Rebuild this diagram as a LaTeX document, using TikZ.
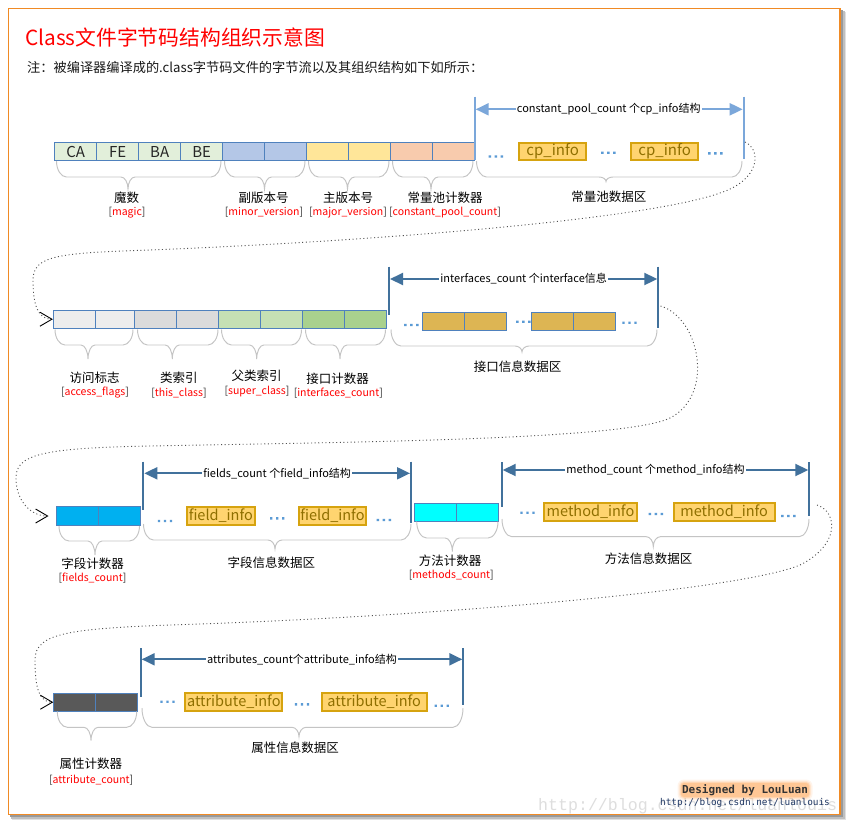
\documentclass[tikz,border=0pt]{standalone}
\usepackage{fontspec}
\setmainfont{Noto Sans CJK SC}
\newfontfamily\sigfont{DejaVu Sans Mono}
\newfontfamily\wmfont{Liberation Mono}
\usetikzlibrary{arrows.meta}
\definecolor{frameorange}{HTML}{F08A24}
\definecolor{cellblue}{HTML}{4F81BD}
\definecolor{cCA}{HTML}{E2EFDA}
\definecolor{cMinor}{HTML}{B4C7E7}
\definecolor{cMajor}{HTML}{FFE699}
\definecolor{cCP}{HTML}{F8CBAD}
\definecolor{cAcc}{HTML}{EDEDED}
\definecolor{cThis}{HTML}{DBDBDB}
\definecolor{cSuper}{HTML}{C5E0B4}
\definecolor{cIntf}{HTML}{A9D18E}
\definecolor{cFld}{HTML}{00B0F0}
\definecolor{cMth}{HTML}{00FFFF}
\definecolor{cAttr}{HTML}{595959}
\definecolor{cGold}{HTML}{DDB553}
\definecolor{infofill}{HTML}{FFD46F}
\definecolor{infoborder}{HTML}{D6A30F}
\definecolor{infotext}{HTML}{8F6F00}
\definecolor{bracegray}{HTML}{C4C4C4}
\definecolor{dimlight}{HTML}{7BA7DA}
\definecolor{dimdark}{HTML}{41719C}
\definecolor{dotblue}{HTML}{5B9BD5}
\definecolor{conngray}{HTML}{505050}
\definecolor{urlblue}{HTML}{203864}
\definecolor{glow}{HTML}{FF9A3C}
\newcommand\myfs[1]{\fontsize{#1}{#1}\selectfont}
\newcommand\cellat[7]{\node[cellbox, fill=#6, minimum width={#3-#2}, minimum height=#5] (#1) at ({(#2+#3)/2},#4) {#7};}
\newcommand\infoat[7]{\node[infobox, font=\myfs{#7}, minimum width={#3-#2-2}, minimum height={#5-#4-2}] (#1) at ({(#2+#3)/2},{(#4+#5)/2}) {#6};}
\newcommand\obrace[6]{%
  \pgfmathsetmacro\bka{#4+0.55*(#5-#4)}%
  \pgfmathsetmacro\bkb{#5+0.45*(#6-#5)}%
  \draw[bracestyle] (#1,#4) .. controls (#1,\bka) and ({#1+4.5},#5) .. ({#1+10},#5) -- ({#3-7},#5) .. controls ({#3-3.2},#5) and (#3,\bkb) .. (#3,#6) .. controls (#3,\bkb) and ({#3+3.2},#5) .. ({#3+7},#5) -- ({#2-10},#5) .. controls ({#2-4.5},#5) and (#2,\bka) .. (#2,#4);}
\tikzset{
  cellbox/.style={draw=cellblue, line width=0.9pt, inner sep=0pt, text=black!85, font=\myfs{15}},
  infobox/.style={draw=infoborder, fill=infofill, line width=2.2pt, inner sep=0pt, text=infotext},
  bracestyle/.style={draw=bracegray, line width=0.95pt},
  dimarrow/.style={line width=2pt, {Triangle[length=13pt,width=12pt]}-{Triangle[length=13pt,width=12pt]}},
  dimlabel/.style={fill=white, inner sep=1pt, font=\myfs{11}, text=black},
  cnlabel/.style={font=\myfs{12.5}, inner sep=0pt, text=black},
  rdlabel/.style={font=\myfs{10.5}, inner sep=0pt, text=black!80},
  conn/.style={draw=conngray, line width=0.9pt, dash pattern=on 1pt off 2.6pt, -{Straight Barb[length=12pt,width=14pt,line width=0.9pt,black]}},
  pics/threedots/.style={code={\fill[dotblue] (-7.2,-1.2) rectangle (-4.8,1.2) (-1.2,-1.2) rectangle (1.2,1.2) (4.8,-1.2) rectangle (7.2,1.2);}},
}
\begin{document}
\begin{tikzpicture}[x=1pt,y=-1pt]
\useasboundingbox (0,0) rectangle (848,823);
\fill[white] (0,0) rectangle (848,823);
% frame with shadow
\fill[black!12] (12,12) rectangle (846,820);
\fill[black!25] (11,11) rectangle (844.5,818.5);
\fill[black!40] (10,10) rectangle (843,817);
\filldraw[fill=white, draw=frameorange, line width=1.6pt] (8.5,8.5) rectangle (840,814.5);
% watermark
\node[anchor=base west, inner sep=0pt, font=\wmfont\myfs{16.6}, text=black!13] (wm) at (538,810) {http://blog.csdn.net/luanlouis};
% title
\node[anchor=base west, inner sep=0pt, font=\myfs{20.8}, text=red] (title) at (25,45.5) {Class文件字节码结构组织示意图};
\node[anchor=base west, inner sep=0pt, font=\myfs{13.2}, text=black!90] (sub) at (27,72) {注：被编译器编译成的.class字节码文件的字节流以及其组织结构如下如所示：};

%%%%%%%% ROW 1
\cellat{ca}{54.7}{96.7}{151.5}{17.6}{cCA}{CA}
\cellat{fe}{96.7}{138.7}{151.5}{17.6}{cCA}{FE}
\cellat{ba}{138.7}{180.7}{151.5}{17.6}{cCA}{BA}
\cellat{be}{180.7}{222.7}{151.5}{17.6}{cCA}{BE}
\cellat{mi1}{222.7}{264.7}{151.5}{17.6}{cMinor}{}
\cellat{mi2}{264.7}{306.7}{151.5}{17.6}{cMinor}{}
\cellat{ma1}{306.7}{348.7}{151.5}{17.6}{cMajor}{}
\cellat{ma2}{348.7}{390.7}{151.5}{17.6}{cMajor}{}
\cellat{cp1}{390.7}{432.7}{151.5}{17.6}{cCP}{}
\cellat{cp2}{432.7}{474.7}{151.5}{17.6}{cCP}{}
% dimension
\draw[line width=2pt, dimlight] (474.7,96.7) -- (474.7,160.3);
\draw[line width=2pt, dimlight] (743.7,96.7) -- (743.7,159.3);
\coordinate (d1l) at (475.7,109.3);
\coordinate (d1r) at (742.7,109.3);
\draw[dimarrow, dimlight] (d1l) -- node[dimlabel, pos=0.5, xshift=-0.5pt] (d1t) {constant\_pool\_count 个cp\_info结构} (d1r);
\pic at (495.8,156.5) {threedots};
\infoat{cpi1}{518}{587.3}{141.7}{161}{cp\_info}{15}
\pic at (608.3,152.7) {threedots};
\infoat{cpi2}{630}{699.3}{141.7}{161}{cp\_info}{15}
\pic at (715.3,153.3) {threedots};
% braces
\obrace{56.5}{221}{128}{161}{177}{189}
\obrace{224.5}{305}{264.5}{161}{177}{189}
\obrace{308.5}{389}{347.5}{161}{177}{189}
\obrace{392.5}{473}{431}{161}{177}{189}
\obrace{476.5}{742}{606}{161}{177}{181.5}
% labels
\node[cnlabel] (l1a) at (126.7,197.5) {魔数};
\node[rdlabel] (l1b) at (127,212.5) {[\textcolor{red}{magic}]};
\node[cnlabel] (l2a) at (263.5,197.5) {副版本号};
\node[rdlabel] (l2b) at (264,212.5) {[\textcolor{red}{minor\_version}]};
\node[cnlabel] (l3a) at (348,197.5) {主版本号};
\node[rdlabel] (l3b) at (348,212.5) {[\textcolor{red}{major\_version}]};
\node[cnlabel] (l4a) at (445,197.5) {常量池计数器};
\node[rdlabel] (l4b) at (445,212.5) {[\textcolor{red}{constant\_pool\_count}]};
\node[cnlabel] (l5a) at (608.8,196.7) {常量池数据区};

%%%%%%%% ROW 2
\cellat{acc1}{53.3}{95.7}{319.2}{18.3}{cAcc}{}
\cellat{acc2}{95.7}{134.3}{319.2}{18.3}{cAcc}{}
\cellat{th1}{134.3}{176.7}{319.2}{18.3}{cThis}{}
\cellat{th2}{176.7}{218.7}{319.2}{18.3}{cThis}{}
\cellat{su1}{218.7}{260.3}{319.2}{18.3}{cSuper}{}
\cellat{su2}{260.3}{302.7}{319.2}{18.3}{cSuper}{}
\cellat{if1}{302.7}{344.3}{319.2}{18.3}{cIntf}{}
\cellat{if2}{344.3}{386.7}{319.2}{18.3}{cIntf}{}
\draw[line width=2pt, dimdark] (389,266.7) -- (389,315);
\draw[line width=2pt, dimdark] (658.3,266.7) -- (658.3,328);
\coordinate (d2l) at (390,279);
\coordinate (d2r) at (657.3,279);
\draw[dimarrow, dimdark] (d2l) -- node[dimlabel, pos=0.5] (d2t) {interfaces\_count 个interface信息} (d2r);
\pic at (411.3,325) {threedots};
\cellat{g1}{422.3}{464.3}{321.5}{18.4}{cGold}{}
\cellat{g2}{464.3}{506.7}{321.5}{18.4}{cGold}{}
\pic at (523.3,321.7) {threedots};
\cellat{g3}{531.7}{573.3}{321.5}{18.4}{cGold}{}
\cellat{g4}{573.3}{615.7}{321.5}{18.4}{cGold}{}
\pic at (629.5,322.7) {threedots};
\obrace{55}{133}{88}{329.5}{345}{359}
\obrace{137.5}{218}{172.3}{329.5}{345}{359}
\obrace{221.5}{301.5}{256.7}{329.5}{345}{359}
\obrace{305.5}{385.5}{340}{329.5}{345}{359}
\obrace{391}{657}{522}{329.5}{346}{352}
\node[cnlabel] (m1a) at (94.7,377.5) {访问标志};
\node[rdlabel] (m1b) at (95,392.5) {[\textcolor{red}{access\_flags}]};
\node[cnlabel] (m2a) at (178.8,377.5) {类索引};
\node[rdlabel] (m2b) at (179,393.3) {[\textcolor{red}{this\_class}]};
\node[cnlabel] (m3a) at (256.7,376) {父类索引};
\node[rdlabel] (m3b) at (257,391.7) {[\textcolor{red}{super\_class}]};
\node[cnlabel] (m4a) at (337.5,379) {接口计数器};
\node[rdlabel] (m4b) at (338.3,393.3) {[\textcolor{red}{interfaces\_count}]};
\node[cnlabel] (m5a) at (517.5,366.7) {接口信息数据区};

%%%%%%%% ROW 3
\cellat{fc1}{56}{98.7}{516}{18.6}{cFld}{}
\cellat{fc2}{98.7}{140.3}{516}{18.6}{cFld}{}
\draw[line width=2pt, dimdark] (143.3,461.7) -- (143.3,510);
\draw[line width=2pt, dimdark] (411,461.7) -- (411,523);
\coordinate (d3l) at (144.3,473.3);
\coordinate (d3r) at (410,473.3);
\draw[dimarrow, dimdark] (d3l) -- node[dimlabel, pos=0.5] (d3t) {fields\_count 个field\_info结构} (d3r);
\pic at (165,521) {threedots};
\infoat{fi1}{186}{255.7}{505.7}{526}{field\_info}{14.5}
\pic at (277.2,518.3) {threedots};
\infoat{fi2}{297.7}{367.3}{505.7}{526}{field\_info}{14.5}
\pic at (383.8,520) {threedots};
\cellat{mc1}{414.3}{456.3}{512.2}{17.7}{cMth}{}
\cellat{mc2}{456.3}{498.7}{512.2}{17.7}{cMth}{}
\draw[line width=2pt, dimdark] (501.7,462.3) -- (501.7,506.7);
\draw[line width=2pt, dimdark] (809.3,462.3) -- (809.3,516);
\coordinate (d4l) at (502.7,470);
\coordinate (d4r) at (808.3,470);
\draw[dimarrow, dimdark] (d4l) -- node[dimlabel, pos=0.5] (d4t) {method\_count 个method\_info结构} (d4r);
\pic at (527.5,512.7) {threedots};
\infoat{mi1b}{543.3}{637.7}{502.3}{521.7}{method\_info}{14.5}
\pic at (655.8,514) {threedots};
\infoat{mi2b}{672.7}{775.7}{502.3}{521.7}{method\_info}{14.5}
\pic at (788.3,516) {threedots};
\obrace{59}{139.5}{95}{526}{541}{555}
\obrace{143.5}{411}{275}{524}{540}{549}
\obrace{416.7}{498}{452.3}{521.5}{538}{551.5}
\obrace{502}{809}{653.3}{519}{536.7}{546.7}
\node[cnlabel] (n1a) at (92.5,564) {字段计数器};
\node[rdlabel] (n1b) at (92.5,578.3) {[\textcolor{red}{fields\_count}]};
\node[cnlabel] (n2a) at (271.3,562.5) {字段信息数据区};
\node[cnlabel] (n3a) at (450,560.5) {方法计数器};
\node[rdlabel] (n3b) at (451.3,574.7) {[\textcolor{red}{methods\_count}]};
\node[cnlabel] (n4a) at (648.7,558.7) {方法信息数据区};

%%%%%%%% ROW 4
\cellat{ac1}{53.7}{95.7}{702.2}{17.7}{cAttr}{}
\cellat{ac2}{95.7}{137.3}{702.2}{17.7}{cAttr}{}
\draw[line width=2pt, dimdark] (140.7,648.3) -- (140.7,696.7);
\draw[line width=2pt, dimdark] (463.3,648.3) -- (463.3,705);
\coordinate (d5l) at (141.7,659.3);
\coordinate (d5r) at (462.3,659.3);
\draw[dimarrow, dimdark] (d5l) -- node[dimlabel, pos=0.5] (d5t) {attributes\_count个attribute\_info结构} (d5r);
\pic at (167.5,701.7) {threedots};
\infoat{at1}{184.3}{283.3}{692.3}{711.7}{attribute\_info}{14.5}
\pic at (302,704.3) {threedots};
\infoat{at2}{320.7}{427.7}{692.3}{711.7}{attribute\_info}{14.5}
\pic at (441.7,705.7) {threedots};
\obrace{57.3}{136.7}{91}{711.5}{727.3}{740.7}
\obrace{142}{463}{299}{708}{727.3}{736.7}
\node[cnlabel] (p1a) at (90.8,764.2) {属性计数器};
\node[rdlabel] (p1b) at (91.2,779.7) {[\textcolor{red}{attribute\_count}]};
\node[cnlabel] (p2a) at (295,747.5) {属性信息数据区};

%%%%%%%% CONNECTORS
\coordinate (c1s) at (745,142);
\draw[conn] (c1s) .. controls (762,150) and (760,180) .. (720,193) .. controls (650,218) and (400,240) .. (150,250) .. controls (60,253) and (33,255) .. (33,280) .. controls (33,305) and (38,319.2) .. (acc1.west);
\coordinate (c2s) at (660.5,306);
\coordinate (c2e) at (48.5,516);
\draw[conn] (c2s) .. controls (700,318) and (715,395) .. (670,418) .. controls (625,440) and (350,442) .. (150,446) .. controls (40,448) and (16,455) .. (16,478) .. controls (16,500) and (30,516) .. (c2e);
\coordinate (c3s) at (817,505);
\draw[conn] (c3s) .. controls (838,512) and (840,545) .. (800,565) .. controls (740,590) and (450,615) .. (200,624) .. controls (70,628) and (35,632) .. (35,660) .. controls (35,690) and (40,702.2) .. (ac1.west);

%%%%%%%% SIGNATURE
\foreach \r/\o in {4.5/0.10,3.2/0.14,2/0.2,1/0.25}
  \fill[glow, opacity=\o, rounded corners={(\r+2)*1pt}] ({682-\r},{784-\r}) rectangle ({808+\r},{796+\r});
\node[inner sep=0pt, font=\sigfont\bfseries\myfs{11}, text=black!80] (sig) at (745,790) {Designed by LouLuan};
\node[inner sep=0pt, font=\sigfont\myfs{9.4}, text=urlblue] (url) at (745,803) {http://blog.csdn.net/luanlouis};
\end{tikzpicture}
\end{document}
